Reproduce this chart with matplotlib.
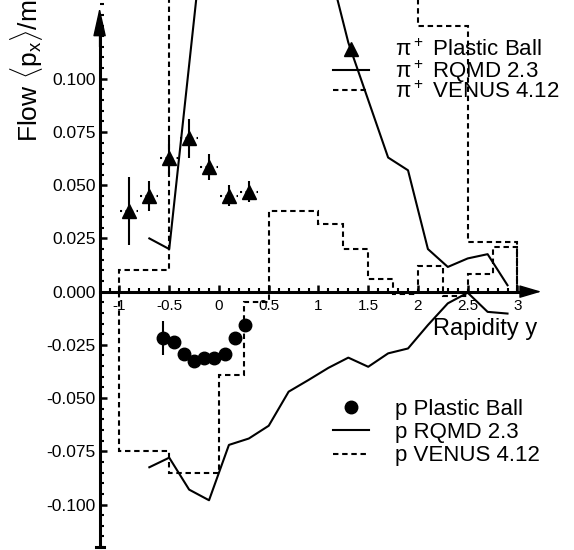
import numpy as np
import matplotlib.pyplot as plt
from matplotlib.lines import Line2D
from matplotlib.ticker import MultipleLocator, FixedLocator

plt.rcParams['font.family'] = ['Liberation Sans', 'DejaVu Sans']
plt.rcParams['mathtext.fontset'] = 'custom'
plt.rcParams['mathtext.rm'] = 'Liberation Sans'
plt.rcParams['mathtext.it'] = 'Liberation Sans'
plt.rcParams['mathtext.bf'] = 'Liberation Sans:bold'

# pi+ Plastic Ball data
pi_rap = [-0.9, -0.7, -0.5, -0.3, -0.1, 0.1, 0.3]
pi_flow = [0.038, 0.045, 0.063, 0.072, 0.0585, 0.045, 0.047]
pi_err = [0.016, 0.007, 0.008, 0.009, 0.006, 0.005, 0.005]
pi_xerr = 0.09

# pi+ RQMD 2.3 (points above the frame are estimated)
pi_rqmd_rap = [-0.7, -0.5, -0.1, 0.3, 0.7, 1.1, 1.3, 1.7, 1.9, 2.1, 2.3, 2.5, 2.7, 2.9]
pi_rqmd_flow = [0.025, 0.020, 0.193, 0.22, 0.20, 0.154, 0.117, 0.063, 0.057,
                0.020, 0.0116, 0.0156, 0.0176, 0.003]

# pi+ VENUS 4.12 histogram
pi_venus_edges = [-1.0, -0.5, 0.0, 0.5, 1.0, 1.5, 2.0, 2.5, 3.0]
pi_venus_flow = [0.010, 0.16, 0.22, 0.25, 0.22, 0.18, 0.125, 0.0234]

# p Plastic Ball data
p_rap = [-0.56, -0.45, -0.35, -0.25, -0.15, -0.05, 0.06, 0.16, 0.26]
p_flow = [-0.0217, -0.0236, -0.0295, -0.0325, -0.0314, -0.031, -0.0293, -0.022, -0.0157]
p_err = [0.008, 0.002, 0.002, 0.002, 0.002, 0.002, 0.002, 0.002, 0.002]

# p RQMD 2.3
p_rqmd_rap = [-0.7, -0.5, -0.3, -0.1, 0.1, 0.3, 0.5, 0.7, 0.9, 1.1, 1.3, 1.5, 1.7,
              1.9, 2.1, 2.3, 2.5, 2.7, 2.9]
p_rqmd_flow = [-0.0825, -0.078, -0.093, -0.098, -0.072, -0.069, -0.063, -0.047, -0.0415,
               -0.0358, -0.031, -0.0353, -0.029, -0.0267, -0.0157, -0.0055, -0.0005,
               -0.0095, -0.0103]

# p VENUS 4.12 histogram
p_venus_edges = [-1.0, -0.5, 0.0, 0.25, 0.5, 1.0, 1.25, 1.5, 1.75, 2.0, 2.25, 2.5, 2.75, 3.0]
p_venus_flow = [-0.075, -0.085, -0.039, -0.005, 0.038, 0.032, 0.020, 0.006, -0.001,
                0.012, -0.002, 0.0085, 0.021]

dash = (0, (2.6, 1.8))

fig = plt.figure(figsize=(5.74, 5.5), dpi=100)
ax = fig.add_axes([0.1735, 0.0053, 0.780, 0.9947])
ax.set_xlim(-1.2, 3.3)
ax.set_ylim(-0.12, 0.137)

# models
ax.plot(pi_rqmd_rap, pi_rqmd_flow, color='k', lw=1.5)
ax.plot(p_rqmd_rap, p_rqmd_flow, color='k', lw=1.5)
ax.stairs(pi_venus_flow, pi_venus_edges, baseline=0, color='k', lw=1.5, linestyle=dash)
ax.stairs(p_venus_flow, p_venus_edges, baseline=0, color='k', lw=1.5, linestyle=dash)

# data
ax.errorbar(pi_rap, pi_flow, yerr=pi_err, fmt='none', ecolor='k', elinewidth=1.5)
ebx = ax.errorbar(pi_rap, pi_flow, xerr=pi_xerr, fmt='none', ecolor='k', elinewidth=1.5)
ebx[2][0].set_linestyle(':')
ax.plot(pi_rap, pi_flow, '^', color='k', ms=9.5, zorder=5)
ax.errorbar(p_rap, p_flow, yerr=p_err, fmt='none', ecolor='k', elinewidth=1.5)
ax.plot(p_rap, p_flow, 'o', color='k', ms=9, zorder=5)

# axes styling
for s in ['top', 'right']:
    ax.spines[s].set_visible(False)
ax.spines['bottom'].set_position(('data', 0))
ax.spines['left'].set_position(('data', -1.2))
ax.spines['left'].set_linewidth(2.2)
ax.spines['bottom'].set_linewidth(2.2)
ax.spines['left'].set_bounds(-0.12, 0.122)
ax.spines['bottom'].set_bounds(-1.2, 3.1)
ax.annotate('', xy=(-1.2, 0.1335), xytext=(-1.2, 0.115),
            arrowprops=dict(arrowstyle='-|>,head_length=0.9,head_width=0.2', color='k', lw=1,
                            mutation_scale=20, shrinkA=0, shrinkB=0))
ax.annotate('', xy=(3.24, 0), xytext=(3.05, 0),
            arrowprops=dict(arrowstyle='-|>,head_length=0.68,head_width=0.2', color='k', lw=1,
                            mutation_scale=20, shrinkA=0, shrinkB=0))
ax.plot([-1.24, -1.16], [-0.1198, -0.1198], color='k', lw=2.2, clip_on=False)

ax.set_xticks([-1, -0.5, 0, 0.5, 1, 1.5, 2, 2.5, 3])
ax.set_xticklabels(['-1', '-0.5', '0', '0.5', '1', '1.5', '2', '2.5', '3'])
ax.xaxis.set_minor_locator(FixedLocator(np.round(np.arange(-1.1, 3.01, 0.1), 2)))
ax.set_yticks([-0.1, -0.075, -0.05, -0.025, 0, 0.025, 0.05, 0.075, 0.1])
ax.set_yticklabels(['-0.100', '-0.075', '-0.050', '-0.025', '0.000',
                    '0.025', '0.050', '0.075', '0.100'])
ax.yaxis.set_minor_locator(MultipleLocator(0.005))
ax.tick_params(axis='x', which='major', direction='in', length=5, width=1.8, labelsize=11, pad=5)
ax.tick_params(axis='x', which='minor', direction='in', length=3, width=1.5)
ax.tick_params(axis='y', which='major', direction='in', length=5, width=1.8, labelsize=12.5, pad=3)
ax.tick_params(axis='y', which='minor', direction='in', length=3, width=1.5)

fig.text(0.014, 1.0, r'Flow $\langle\mathrm{p}_\mathrm{x}\rangle$/m', rotation=90,
         fontsize=19, ha='left', va='top')
ax.text(3.2, -0.0205, 'Rapidity y', fontsize=17, ha='right', va='baseline')

# legends
h_pi = [Line2D([], [], marker='^', color='k', ms=9.5, ls='none'),
        Line2D([], [], color='k', lw=1.5),
        Line2D([], [], color='k', lw=1.5, linestyle=dash)]
l_pi = [r'$\pi^+$ Plastic Ball', r'$\pi^+$ RQMD 2.3', r'$\pi^+$ VENUS 4.12']
leg1 = ax.legend(h_pi, l_pi, loc='upper left', bbox_to_anchor=(333 / 574, 1 - 40 / 550),
                 bbox_transform=fig.transFigure, frameon=False, fontsize=16,
                 handlelength=1.6, handletextpad=1.2, labelspacing=-0.15,
                 borderpad=0, borderaxespad=0)
ax.add_artist(leg1)

h_p = [Line2D([], [], marker='o', color='k', ms=9, ls='none'),
       Line2D([], [], color='k', lw=1.5),
       Line2D([], [], color='k', lw=1.5, linestyle=dash)]
l_p = ['p Plastic Ball', 'p RQMD 2.3', 'p VENUS 4.12']
ax.legend(h_p, l_p, loc='upper left', bbox_to_anchor=(333 / 574, 1 - 399 / 550),
          bbox_transform=fig.transFigure, frameon=False, fontsize=16,
          handlelength=1.6, handletextpad=1.2, labelspacing=0.1,
          borderpad=0, borderaxespad=0)

fig.savefig('out.png', dpi=100)
